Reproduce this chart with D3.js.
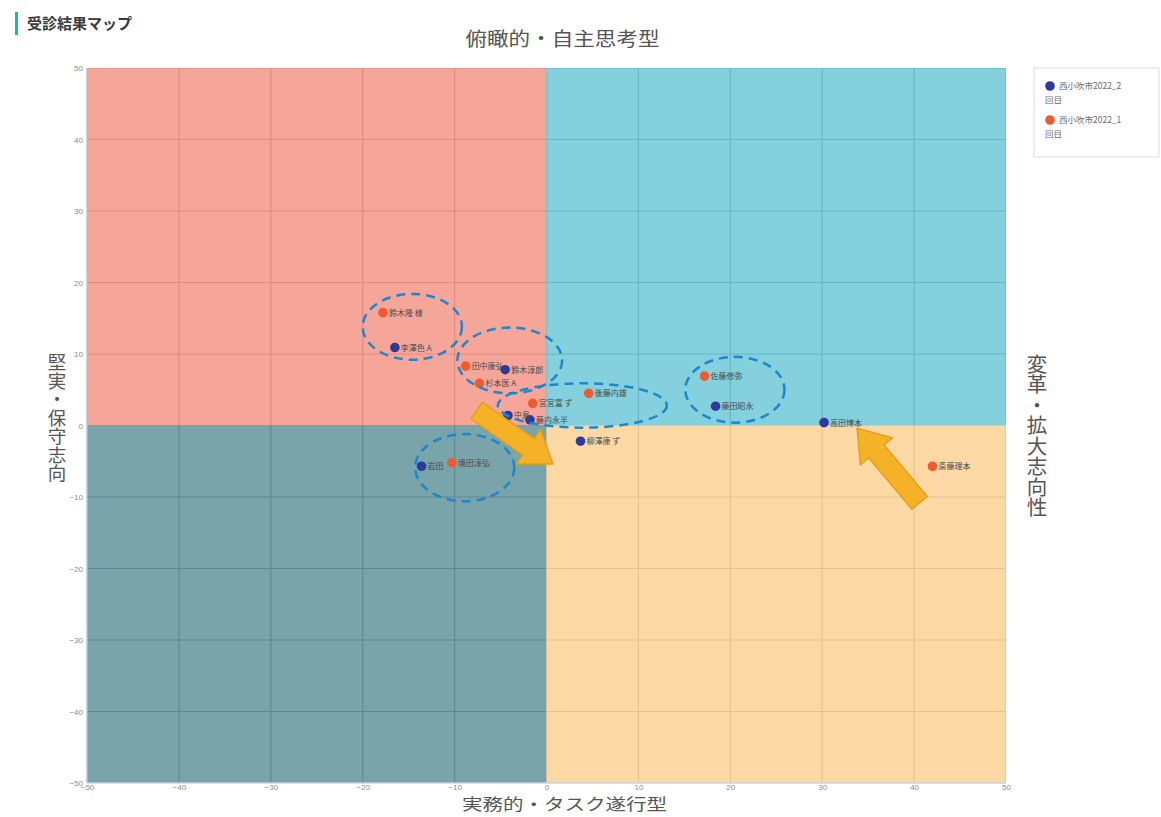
<!DOCTYPE html>
<html lang="ja">
<head>
<meta charset="utf-8">
<script src="https://cdn.jsdelivr.net/npm/d3@7"></script>
<style>
  html, body { margin: 0; padding: 0; background: #fff; }
  body { width: 1161px; height: 817px; overflow: hidden; font-family: "Noto Sans CJK JP", "Noto Sans", sans-serif; }
</style>
</head>
<body>
<svg id="chart" width="1161" height="817"></svg>
<script>
// Axis ticks (same for both axes)
const xTicks = [-50, -40, -30, -20, -10, 0, 10, 20, 30, 40, 50];
const yTicks = [-50, -40, -30, -20, -10, 0, 10, 20, 30, 40, 50];

// Series: first and second survey
const seriesNames = ["西小吹市2022_2回目", "西小吹市2022_1回目"];
const seriesColors = ["#2c3a9e", "#ef5a2e"];

// 1回目 (orange)
const firstNames = ["鈴木隆 様", "田中康弘", "杉本医 A", "宮宮富 ず", "後藤内雄", "佐藤修弥", "斎藤理本", "境田淳弘"];
const firstX = [-17.8, -8.8, -7.3, -1.5, 4.6, 17.2, 42.0, -10.3];
const firstY = [15.8, 8.3, 5.9, 3.1, 4.5, 6.9, -5.7, -5.2];

// 2回目 (blue)
const secondNames = ["李澤色 A", "鈴木淳郎", "中島", "藤内永半", "柳澤康 ず", "藤田昭永", "高田博本", "岩田"];
const secondX = [-16.5, -4.5, -4.2, -1.8, 3.7, 18.4, 30.2, -13.6];
const secondY = [10.9, 7.8, 1.4, 0.8, -2.2, 2.7, 0.4, -5.7];

// Dashed groupings: centre x, centre y, radius x, radius y (data units)
const groupCx = [-14.6, -4.0, 3.9, 20.5, -8.9];
const groupCy = [13.8, 9.1, 2.8, 5.0, -5.9];
const groupRx = [5.4, 5.7, 9.2, 5.4, 5.4];
const groupRy = [4.6, 4.6, 3.1, 4.6, 4.7];

// Movement arrows: from (x0,y0) to (x1,y1), data units
const arrowX0 = [-7.6, 40.6];
const arrowY0 = [2.1, -10.8];
const arrowX1 = [0.7, 33.8];
const arrowY1 = [-5.4, -0.4];

// Quadrant fills: top-left, top-right, bottom-left, bottom-right
const quadFill = ["#f5a699", "#84d0dc", "#79a4a9", "#fcd8a5"];
const quadGrid = ["#e38a7e", "#67b6c3", "#5e8a90", "#e6c292"];

const svg = d3.select("#chart");
const margin = { left: 87, top: 68, right: 155, bottom: 34 };
const W = 1161, H = 817;
const plotW = W - margin.left - margin.right;
const plotH = H - margin.top - margin.bottom;

const x = d3.scaleLinear().domain([-50, 50]).range([margin.left, margin.left + plotW]);
const y = d3.scaleLinear().domain([-50, 50]).range([margin.top + plotH, margin.top]);

// Title with accent bar
svg.append("rect").attr("x", 15).attr("y", 12).attr("width", 3).attr("height", 23).attr("fill", "#1bb5c0");
svg.append("text").attr("x", 27).attr("y", 29)
  .attr("font-size", 15).attr("font-weight", "bold").attr("fill", "#3a3a3a")
  .text("受診結果マップ");

// Quadrants
const quads = [
  { x0: -50, x1: 0, y0: 0, y1: 50 },
  { x0: 0, x1: 50, y0: 0, y1: 50 },
  { x0: -50, x1: 0, y0: -50, y1: 0 },
  { x0: 0, x1: 50, y0: -50, y1: 0 }
];
const defs = svg.append("defs");
quads.forEach((q, i) => {
  defs.append("clipPath").attr("id", "q" + i).append("rect")
    .attr("x", x(q.x0)).attr("y", y(q.y1))
    .attr("width", x(q.x1) - x(q.x0)).attr("height", y(q.y0) - y(q.y1));
  svg.append("rect")
    .attr("x", x(q.x0)).attr("y", y(q.y1))
    .attr("width", x(q.x1) - x(q.x0)).attr("height", y(q.y0) - y(q.y1))
    .attr("fill", quadFill[i]);
  const g = svg.append("g").attr("clip-path", `url(#q${i})`);
  g.selectAll("line.v").data(xTicks).join("line")
    .attr("x1", d => x(d)).attr("x2", d => x(d))
    .attr("y1", y(50)).attr("y2", y(-50))
    .attr("stroke", quadGrid[i]).attr("stroke-width", 1.2);
  g.selectAll("line.h").data(yTicks).join("line")
    .attr("y1", d => y(d)).attr("y2", d => y(d))
    .attr("x1", x(-50)).attr("x2", x(50))
    .attr("stroke", quadGrid[i]).attr("stroke-width", 1.2);
});

// Plot frame
svg.append("line").attr("x1", x(-50)).attr("x2", x(-50)).attr("y1", y(50)).attr("y2", y(-50))
  .attr("stroke", "#b9c7cc").attr("stroke-width", 1.5);
svg.append("line").attr("x1", x(-50)).attr("x2", x(50)).attr("y1", y(-50)).attr("y2", y(-50))
  .attr("stroke", "#c9d6dc").attr("stroke-width", 1.5);

// Axes (tick labels only)
const xAxis = d3.axisBottom(x).tickValues(xTicks).tickSize(0).tickPadding(1);
const yAxis = d3.axisLeft(y).tickValues(yTicks).tickSize(0).tickPadding(4);
const gx = svg.append("g").attr("transform", `translate(0,${y(-50)})`).call(xAxis);
const gy = svg.append("g").attr("transform", `translate(${x(-50)},0)`).call(yAxis);
[gx, gy].forEach(g => {
  g.select(".domain").remove();
  g.selectAll("text").attr("font-size", 8).attr("fill", "#8a8a8a");
});

// Axis titles
svg.append("text").attr("x", x(0) + 16).attr("y", 46).attr("text-anchor", "middle")
  .attr("font-size", 19).attr("fill", "#555")
  .attr("textLength", 194).attr("lengthAdjust", "spacingAndGlyphs")
  .text("俯瞰的・自主思考型");
svg.append("text").attr("x", x(0) + 18).attr("y", 810).attr("text-anchor", "middle")
  .attr("font-size", 16).attr("fill", "#555")
  .attr("textLength", 205).attr("lengthAdjust", "spacingAndGlyphs")
  .text("実務的・タスク遂行型");
svg.append("text").attr("transform", `translate(57,${y(0) - 8}) `)
  .attr("font-size", 18.5).attr("fill", "#555")
  .attr("writing-mode", "tb").attr("text-anchor", "middle")
  .attr("glyph-orientation-vertical", 0)
  .text("堅実・保守志向");
svg.append("text").attr("transform", `translate(1037,${y(0) + 10})`)
  .attr("font-size", 20.5).attr("fill", "#555")
  .attr("writing-mode", "tb").attr("text-anchor", "middle")
  .attr("glyph-orientation-vertical", 0)
  .text("変革・拡大志向性");

// Points and labels
function drawSeries(xs, ys, names, color) {
  const g = svg.append("g");
  const data = xs.map((v, i) => ({ x: v, y: ys[i], name: names[i] }));
  g.selectAll("circle").data(data).join("circle")
    .attr("cx", d => x(d.x)).attr("cy", d => y(d.y)).attr("r", 4.8)
    .attr("fill", color);
  g.selectAll("text").data(data).join("text")
    .attr("x", d => x(d.x) + 6).attr("y", d => y(d.y) + 3)
    .attr("font-size", 8).attr("fill", "#4a4a4a")
    .text(d => d.name);
}
drawSeries(firstX, firstY, firstNames, seriesColors[1]);
drawSeries(secondX, secondY, secondNames, seriesColors[0]);

// Dashed groupings
svg.append("g").selectAll("ellipse").data(groupCx.map((c, i) => i)).join("ellipse")
  .attr("cx", i => x(groupCx[i])).attr("cy", i => y(groupCy[i]))
  .attr("rx", i => x(groupRx[i]) - x(0)).attr("ry", i => y(0) - y(groupRy[i]))
  .attr("fill", "none").attr("stroke", "#1a87cf").attr("stroke-width", 2.5)
  .attr("stroke-dasharray", "9,6");

// Block arrows
function blockArrow(x0, y0, x1, y1) {
  const px0 = x(x0), py0 = y(y0), px1 = x(x1), py1 = y(y1);
  const len = Math.hypot(px1 - px0, py1 - py0);
  const ang = Math.atan2(py1 - py0, px1 - px0) * 180 / Math.PI;
  const sw = 10, hw = 21, hl = 30;
  const pts = [[0, -sw], [len - hl, -sw], [len - hl, -hw], [len, 0], [len - hl, hw], [len - hl, sw], [0, sw]];
  svg.append("polygon")
    .attr("points", pts.map(p => p.join(",")).join(" "))
    .attr("transform", `translate(${px0},${py0}) rotate(${ang})`)
    .attr("fill", "#f6b227").attr("stroke", "#e59f18").attr("stroke-width", 1.5);
}
arrowX0.forEach((v, i) => blockArrow(v, arrowY0[i], arrowX1[i], arrowY1[i]));

// Legend
const lg = svg.append("g");
lg.append("rect").attr("x", 1034).attr("y", 68).attr("width", 125).attr("height", 89)
  .attr("fill", "#fff").attr("stroke", "#dcdcdc");
seriesNames.forEach((name, i) => {
  const top = 86 + i * 34;
  lg.append("circle").attr("cx", 1050).attr("cy", top).attr("r", 4.8).attr("fill", seriesColors[i]);
  lg.append("text").attr("x", 1059).attr("y", top + 3).attr("font-size", 8.5).attr("fill", "#6a6a6a")
    .text(name.replace("回目", ""));
  lg.append("text").attr("x", 1045).attr("y", top + 17).attr("font-size", 8.5).attr("fill", "#6a6a6a")
    .text("回目");
});
</script>
</body>
</html>
